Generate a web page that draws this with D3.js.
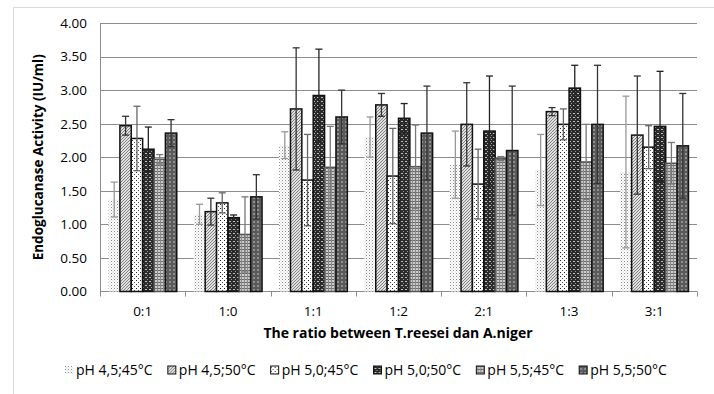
<!DOCTYPE html>
<html>
<head>
<meta charset="utf-8">
<script src="https://cdn.jsdelivr.net/npm/d3@7"></script>
<style>
  body { margin: 0; background: #fff; }
  svg text { font-family: "Open Sans", "Noto Sans", sans-serif; fill: #000; }
</style>
</head>
<body>
<div id="chart"></div>
<script>
// ratio T.reesei : A.niger
const categories = ['0:1', '1:0', '1:1', '1:2', '2:1', '1:3', '3:1'];
const seriesNames = ['pH 4,5;45°C', 'pH 4,5;50°C', 'pH 5,0;45°C', 'pH 5,0;50°C', 'pH 5,5;45°C', 'pH 5,5;50°C'];

// activity (IU/ml), one array per condition
const ph45t45 = [1.37, 1.15, 2.18, 2.30, 1.89, 1.81, 1.78];
const ph45t50 = [2.47, 1.19, 2.72, 2.78, 2.49, 2.68, 2.33];
const ph50t45 = [2.28, 1.32, 1.66, 1.72, 1.60, 2.49, 2.15];
const ph50t50 = [2.12, 1.10, 2.92, 2.58, 2.39, 3.03, 2.46];
const ph55t45 = [1.97, 0.85, 1.85, 1.86, 1.98, 1.93, 1.91];
const ph55t50 = [2.36, 1.41, 2.60, 2.36, 2.10, 2.49, 2.17];

// standard deviation (error bars)
const err45t45 = [0.26, 0.15, 0.20, 0.30, 0.50, 0.53, 1.13];
const err45t50 = [0.14, 0.20, 0.91, 0.17, 0.62, 0.06, 0.88];
const err50t45 = [0.48, 0.15, 0.68, 0.71, 0.52, 0.23, 0.32];
const err50t50 = [0.33, 0.04, 0.69, 0.22, 0.82, 0.34, 0.82];
const err55t45 = [0.07, 0.56, 0.61, 0.62, 0.03, 0.56, 0.31];
const err55t50 = [0.20, 0.33, 0.40, 0.70, 0.96, 0.88, 0.78];

const yTicks = [0, 0.5, 1, 1.5, 2, 2.5, 3, 3.5, 4];

const values = [ph45t45, ph45t50, ph50t45, ph50t50, ph55t45, ph55t50];
const errors = [err45t45, err45t50, err50t45, err50t50, err55t45, err55t50];

const width = 714, height = 394;
const margin = { left: 100, right: 17, top: 23, bottom: 102.5 };

const svg = d3.select('#chart').append('svg')
  .attr('width', width).attr('height', height);

// fill patterns, roughly like the Excel ones
const defs = svg.append('defs');

let p = defs.append('pattern').attr('id', 'pat0').attr('patternUnits', 'userSpaceOnUse')
  .attr('width', 3).attr('height', 3);
p.append('rect').attr('width', 3).attr('height', 3).attr('fill', '#fff');
p.append('rect').attr('width', 1).attr('height', 1).attr('fill', '#888');
p.append('rect').attr('x', 1.5).attr('y', 1.5).attr('width', 1).attr('height', 1).attr('fill', '#bbb');

p = defs.append('pattern').attr('id', 'pat1').attr('patternUnits', 'userSpaceOnUse')
  .attr('width', 3).attr('height', 3);
p.append('rect').attr('width', 3).attr('height', 3).attr('fill', '#e0e0e0');
p.append('path').attr('d', 'M0,3 L3,0 M-1,1 L1,-1 M2,4 L4,2').attr('stroke', '#777').attr('stroke-width', 0.9);

p = defs.append('pattern').attr('id', 'pat2').attr('patternUnits', 'userSpaceOnUse')
  .attr('width', 4).attr('height', 4);
p.append('rect').attr('width', 4).attr('height', 4).attr('fill', '#fff');
p.append('rect').attr('width', 1).attr('height', 1).attr('fill', '#222');
p.append('rect').attr('x', 2).attr('y', 2).attr('width', 1).attr('height', 1).attr('fill', '#555');

p = defs.append('pattern').attr('id', 'pat3').attr('patternUnits', 'userSpaceOnUse')
  .attr('width', 4).attr('height', 4);
p.append('rect').attr('width', 4).attr('height', 4).attr('fill', '#2a2a2a');
p.append('rect').attr('x', 1).attr('y', 1).attr('width', 2).attr('height', 1).attr('fill', '#c0c0c0');
p.append('rect').attr('x', 3).attr('y', 3).attr('width', 1).attr('height', 1).attr('fill', '#999');

p = defs.append('pattern').attr('id', 'pat4').attr('patternUnits', 'userSpaceOnUse')
  .attr('width', 3).attr('height', 3);
p.append('rect').attr('width', 3).attr('height', 3).attr('fill', '#cccccc');
p.append('rect').attr('width', 3).attr('height', 1).attr('fill', '#6a6a6a');
p.append('rect').attr('x', 1).attr('width', 1).attr('height', 3).attr('fill', '#8a8a8a');

p = defs.append('pattern').attr('id', 'pat5').attr('patternUnits', 'userSpaceOnUse')
  .attr('width', 4).attr('height', 4);
p.append('rect').attr('width', 4).attr('height', 4).attr('fill', '#5a5a5a');
p.append('rect').attr('x', 1).attr('y', 1).attr('width', 2).attr('height', 2).attr('fill', '#a8a8a8');
p.append('rect').attr('x', 1.5).attr('y', 1.5).attr('width', 1).attr('height', 1).attr('fill', '#444');

const strokes = ['none', '#111', '#111', '#111', '#555', '#111'];
const errColors = ['#999', '#333', '#666', '#222', '#777', '#333'];

// light chart frame
svg.append('rect')
  .attr('x', 13.5).attr('y', 7.5).attr('width', 720).attr('height', 420)
  .attr('fill', 'none').attr('stroke', '#d9d9d9');

const x0 = d3.scaleBand().domain(categories)
  .range([margin.left, width - margin.right]);
const x1 = d3.scaleBand().domain(d3.range(seriesNames.length))
  .range([0, x0.bandwidth()]).paddingOuter(0.75);
const y = d3.scaleLinear().domain([0, 4]).range([height - margin.bottom, margin.top]);

// gridlines
svg.append('g').selectAll('line').data(yTicks.slice(1)).join('line')
  .attr('x1', margin.left).attr('x2', width - margin.right)
  .attr('y1', d => Math.round(y(d)) + 0.5).attr('y2', d => Math.round(y(d)) + 0.5)
  .attr('stroke', '#8c8c8c');

// y axis
const yAxis = svg.append('g')
  .attr('transform', 'translate(' + margin.left + ',0)')
  .call(d3.axisLeft(y).tickValues(yTicks).tickFormat(d3.format('.2f')).tickSize(0).tickPadding(13));
yAxis.select('.domain').attr('stroke', '#8c8c8c');
yAxis.selectAll('text').style('font-size', '13.5px').attr('fill', '#000');

// x axis: ticks sit between the categories
const xAxis = svg.append('g')
  .attr('transform', 'translate(0,' + (height - margin.bottom) + ')');
xAxis.append('line')
  .attr('x1', margin.left).attr('x2', width - margin.right)
  .attr('stroke', '#8c8c8c');
xAxis.selectAll('line.tick').data(categories.concat(['end'])).join('line')
  .attr('class', 'tick')
  .attr('x1', (d, i) => Math.round(margin.left + i * x0.step()) + 0.5)
  .attr('x2', (d, i) => Math.round(margin.left + i * x0.step()) + 0.5)
  .attr('y1', 0).attr('y2', 5)
  .attr('stroke', '#8c8c8c');
xAxis.selectAll('text').data(categories).join('text')
  .attr('x', d => x0(d) + x0.bandwidth() / 2)
  .attr('y', 24)
  .attr('text-anchor', 'middle')
  .style('font-size', '13.5px')
  .text(d => d);

// bars
const groups = svg.append('g').selectAll('g').data(values).join('g');
groups.selectAll('rect').data((vals, s) => vals.map((v, i) => ({ s, i, v }))).join('rect')
  .attr('x', d => x0(categories[d.i]) + x1(d.s))
  .attr('y', d => y(d.v))
  .attr('width', x1.bandwidth())
  .attr('height', d => y(0) - y(d.v))
  .attr('fill', d => 'url(#pat' + d.s + ')')
  .attr('stroke', d => strokes[d.s])
  .attr('stroke-width', 1.5);

// error bars
const errG = svg.append('g');
values.forEach((vals, s) => {
  vals.forEach((v, i) => {
    const cx = x0(categories[i]) + x1(s) + x1.bandwidth() / 2;
    const e = errors[s][i];
    const g = errG.append('g').attr('stroke', errColors[s]).attr('stroke-width', 1.3);
    g.append('line').attr('x1', cx).attr('x2', cx).attr('y1', y(v + e)).attr('y2', y(v - e));
    [v + e, v - e].forEach(t => {
      g.append('line').attr('x1', cx - 3.5).attr('x2', cx + 3.5).attr('y1', y(t)).attr('y2', y(t));
    });
  });
});

// axis titles
svg.append('text')
  .attr('transform', 'translate(43,' + ((y(0) + y(4)) / 2) + ') rotate(-90)')
  .attr('text-anchor', 'middle')
  .style('font-size', '13.5px').style('font-weight', 'bold')
  .text('Endoglucanase Activity (IU/ml)');

svg.append('text')
  .attr('x', 398).attr('y', 338)
  .attr('text-anchor', 'middle')
  .style('font-size', '14px').style('font-weight', 'bold')
  .text('The ratio between T.reesei dan A.niger');

// legend
const legend = svg.append('g');
const items = legend.selectAll('g').data(seriesNames).join('g');
items.append('rect')
  .attr('width', 8).attr('height', 8).attr('y', -9)
  .attr('fill', (d, i) => 'url(#pat' + i + ')')
  .attr('stroke', (d, i) => i === 0 ? 'none' : '#111');
items.append('text')
  .attr('x', 11).attr('y', 0)
  .style('font-size', '14px')
  .text(d => d);

let lx = 0;
const gap = 15;
items.each(function () {
  const w = this.getBBox().width;
  d3.select(this).attr('transform', 'translate(' + lx + ',0)');
  lx += w + gap;
});
const total = lx - gap;
legend.attr('transform', 'translate(' + (366 - total / 2) + ',375)');
</script>
</body>
</html>
